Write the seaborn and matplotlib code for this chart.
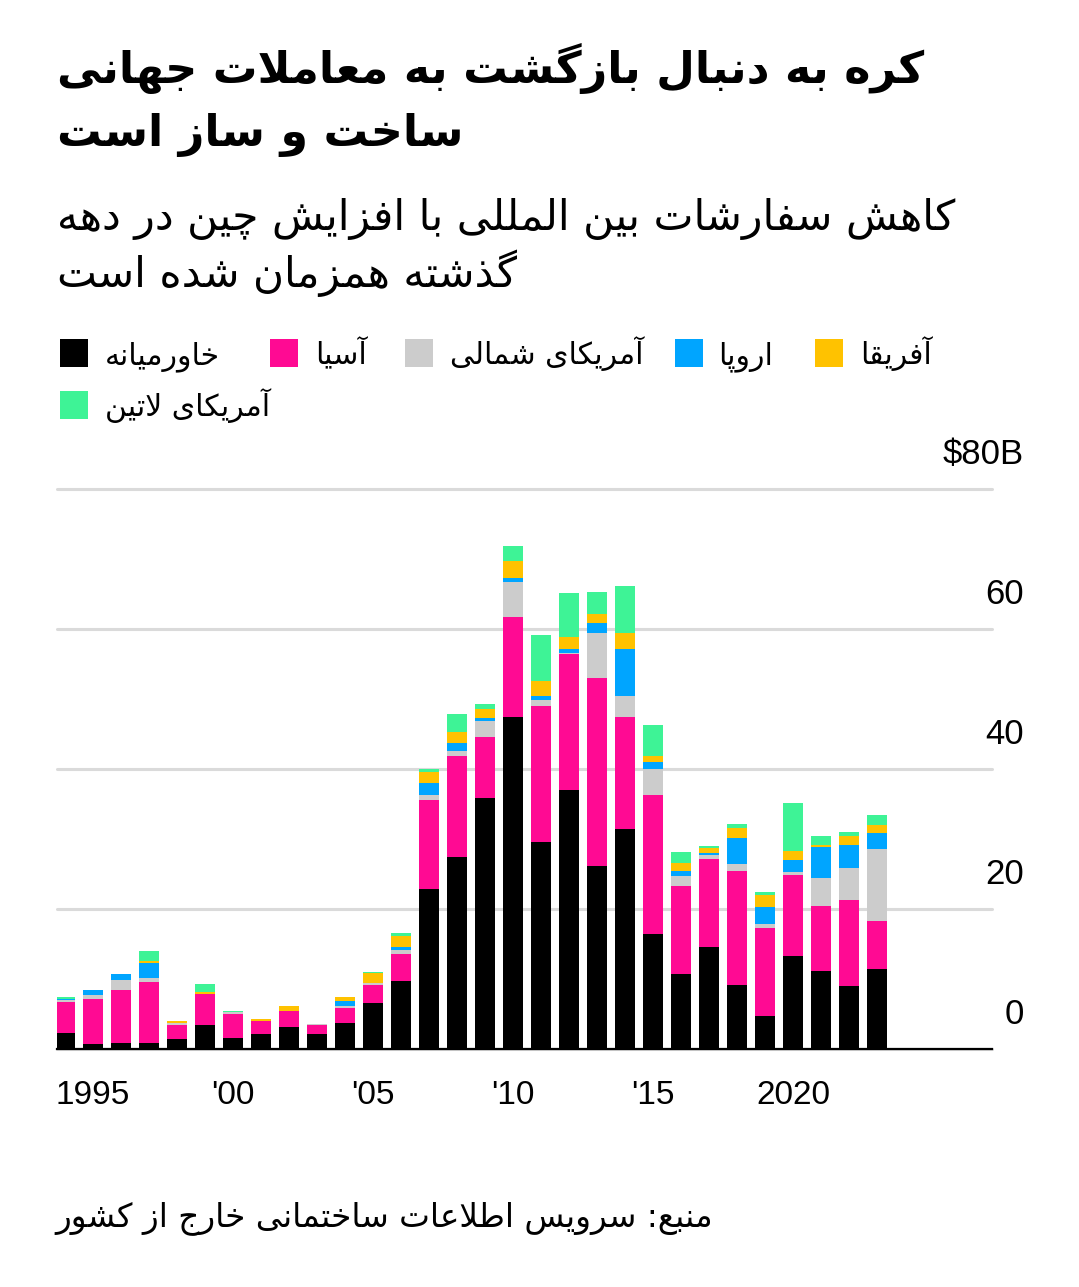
import numpy as np
import pandas as pd
import matplotlib
matplotlib.use('Agg')
import matplotlib.pyplot as plt
from matplotlib.patches import Rectangle
import seaborn as sns

# ── Data ($B of overseas construction orders won by Korea) ───────────────────
years = list(range(1994, 2024))

middle_east = [2.3, 0.7, 0.9, 0.9, 1.5, 3.4, 1.6, 2.2, 3.1, 2.2,
               3.7, 6.6, 9.7, 22.9, 27.4, 35.9, 47.4, 29.6, 37.0, 26.2,
               31.4, 16.5, 10.7, 14.6, 9.1, 4.7, 13.3, 11.1, 9.0, 11.4]
asia        = [4.4, 6.4, 7.6, 8.7, 2.0, 4.5, 3.4, 1.8, 2.3, 1.2,
               2.2, 2.6, 3.9, 12.7, 14.5, 8.7, 14.3, 19.4, 19.4, 26.8,
               16.0, 19.8, 12.6, 12.5, 16.3, 12.6, 11.5, 9.4, 12.3, 6.9]
north_am    = [0.3, 0.6, 1.4, 0.6, 0.2, 0.0, 0.3, 0.0, 0.0, 0.2,
               0.2, 0.3, 0.5, 0.7, 0.6, 2.2, 5.0, 0.9, 0.2, 6.4,
               3.0, 3.7, 1.4, 0.6, 1.0, 0.5, 0.5, 3.9, 4.5, 10.3]
europe      = [0.2, 0.7, 0.8, 2.1, 0.0, 0.0, 0.0, 0.0, 0.0, 0.0,
               0.7, 0.0, 0.5, 1.7, 1.2, 0.5, 0.6, 0.5, 0.6, 1.5,
               6.8, 1.0, 0.7, 0.3, 3.8, 2.5, 1.7, 4.5, 3.4, 2.2]
africa      = [0.0, 0.0, 0.0, 0.3, 0.3, 0.3, 0.0, 0.3, 0.8, 0.0,
               0.7, 1.4, 1.5, 1.6, 1.6, 1.3, 2.4, 2.2, 1.7, 1.2,
               2.2, 0.8, 1.2, 0.7, 1.3, 1.7, 1.3, 0.2, 1.2, 1.2]
latin_am    = [0.2, 0.0, 0.0, 1.4, 0.0, 1.1, 0.1, 0.0, 0.0, 0.0,
               0.0, 0.1, 0.5, 0.4, 2.6, 0.7, 2.2, 6.6, 6.2, 3.2,
               6.8, 4.5, 1.6, 0.3, 0.7, 0.4, 6.9, 1.4, 0.6, 1.4]

regions = ["خاورمیانه", "آسیا", "آمریکای شمالی", "اروپا", "آفریقا", "آمریکای لاتین"]
colors  = ['#000000', '#ff0a93', '#cccccc', '#00a5ff', '#ffc200', '#3ef396']

xticks       = [1995, 2000, 2005, 2010, 2015, 2020]
xtick_labels = ['1995', "'00", "'05", "'10", "'15", '2020']
yticks       = [0, 20, 40, 60, 80]
ytick_labels = ['0', '20', '40', '60', '$80B']

TITLE = ["کره به دنبال بازگشت به معاملات جهانی", "ساخت و ساز است"]
SUBTITLE = ["کاهش سفارشات بین المللی با افزایش چین در دهه", "گذشته همزمان شده است"]
SOURCE = "منبع: سرویس اطلاعات ساختمانی خارج از کشور"

# ── Minimal Persian shaping (matplotlib has no RTL/joining support) ─────────
FORMS = {
    '\u0627': (0xFE8D, 0xFE8E), '\u0622': (0xFE81, 0xFE82),
    '\u062F': (0xFEA9, 0xFEAA), '\u0630': (0xFEAB, 0xFEAC),
    '\u0631': (0xFEAD, 0xFEAE), '\u0632': (0xFEAF, 0xFEB0),
    '\u0698': (0xFB8A, 0xFB8B), '\u0648': (0xFEED, 0xFEEE),
    '\u0628': (0xFE8F, 0xFE90, 0xFE91, 0xFE92),
    '\u067E': (0xFB56, 0xFB57, 0xFB58, 0xFB59),
    '\u062A': (0xFE95, 0xFE96, 0xFE97, 0xFE98),
    '\u062B': (0xFE99, 0xFE9A, 0xFE9B, 0xFE9C),
    '\u062C': (0xFE9D, 0xFE9E, 0xFE9F, 0xFEA0),
    '\u0686': (0xFB7A, 0xFB7B, 0xFB7C, 0xFB7D),
    '\u062D': (0xFEA1, 0xFEA2, 0xFEA3, 0xFEA4),
    '\u062E': (0xFEA5, 0xFEA6, 0xFEA7, 0xFEA8),
    '\u0633': (0xFEB1, 0xFEB2, 0xFEB3, 0xFEB4),
    '\u0634': (0xFEB5, 0xFEB6, 0xFEB7, 0xFEB8),
    '\u0635': (0xFEB9, 0xFEBA, 0xFEBB, 0xFEBC),
    '\u0636': (0xFEBD, 0xFEBE, 0xFEBF, 0xFEC0),
    '\u0637': (0xFEC1, 0xFEC2, 0xFEC3, 0xFEC4),
    '\u0638': (0xFEC5, 0xFEC6, 0xFEC7, 0xFEC8),
    '\u0639': (0xFEC9, 0xFECA, 0xFECB, 0xFECC),
    '\u063A': (0xFECD, 0xFECE, 0xFECF, 0xFED0),
    '\u0641': (0xFED1, 0xFED2, 0xFED3, 0xFED4),
    '\u0642': (0xFED5, 0xFED6, 0xFED7, 0xFED8),
    '\u06A9': (0xFB8E, 0xFB8F, 0xFB90, 0xFB91),
    '\u0643': (0xFB8E, 0xFB8F, 0xFB90, 0xFB91),
    '\u06AF': (0xFB92, 0xFB93, 0xFB94, 0xFB95),
    '\u0644': (0xFEDD, 0xFEDE, 0xFEDF, 0xFEE0),
    '\u0645': (0xFEE1, 0xFEE2, 0xFEE3, 0xFEE4),
    '\u0646': (0xFEE5, 0xFEE6, 0xFEE7, 0xFEE8),
    '\u0647': (0xFEE9, 0xFEEA, 0xFEEB, 0xFEEC),
    '\u06CC': (0xFBFC, 0xFBFD, 0xFBFE, 0xFBFF),
    '\u064A': (0xFBFC, 0xFBFD, 0xFBFE, 0xFBFF),
}
LAM_ALEF = {'\u0627': (0xFEFB, 0xFEFC), '\u0622': (0xFEF5, 0xFEF6)}


def fa(text):
    tokens, i = [], 0
    while i < len(text):
        c = text[i]
        if c == '\u0644' and i + 1 < len(text) and text[i + 1] in LAM_ALEF:
            tokens.append(LAM_ALEF[text[i + 1]]); i += 2
        else:
            tokens.append(FORMS.get(c, c)); i += 1
    out = []
    for k, t in enumerate(tokens):
        if isinstance(t, str):
            out.append(t); continue
        prev = tokens[k - 1] if k > 0 else None
        nxt = tokens[k + 1] if k + 1 < len(tokens) else None
        link_prev = isinstance(prev, tuple) and len(prev) == 4
        link_next = len(t) == 4 and isinstance(nxt, tuple)
        if link_prev and link_next:
            cp = t[3]
        elif link_prev:
            cp = t[1]
        elif link_next:
            cp = t[2]
        else:
            cp = t[0]
        out.append(chr(cp))
    return ''.join(out)[::-1]


# ── Style ────────────────────────────────────────────────────────────────────
sns.set_style('white')
plt.rcParams['font.family'] = ['Liberation Sans', 'DejaVu Sans']
plt.rcParams['text.color'] = 'black'
FA_FONT = ['DejaVu Sans']

W, H = 1079, 1287
fig = plt.figure(figsize=(W / 100, H / 100), dpi=100)
fig.patch.set_facecolor('white')

def fx(px): return px / W
def fy(py): return 1 - py / H

ax = fig.add_axes([fx(57), fy(1049), (992 - 57) / W, (1049 - 489) / H])

# ── Stacked bars ─────────────────────────────────────────────────────────────
series = [middle_east, asia, north_am, europe, africa, latin_am]
df = pd.DataFrame({
    'year':   years * len(regions),
    'region': np.repeat(regions, len(years)),
    'value':  np.concatenate(series),
})
# histplot stacks the first hue level on top, so reverse the order
sns.histplot(data=df, x='year', weights='value', hue='region',
             hue_order=regions[::-1], palette=dict(zip(regions, colors)),
             multiple='stack', discrete=True, shrink=0.72,
             alpha=1, linewidth=0, edgecolor='none', legend=False, ax=ax)

ax.set_xlim(1993.71, 2027.1)
ax.set_ylim(0, 80)
ax.set_xlabel(''); ax.set_ylabel('')

ax.set_yticks(yticks)
ax.yaxis.grid(True, color='#dadada', linewidth=2.2)
for gl in ax.get_ygridlines():
    gl.set_clip_on(False)
ax.set_axisbelow(True)
ax.tick_params(axis='y', left=False, right=False, labelleft=False)

ax.set_xticks(xticks)
ax.set_xticklabels(xtick_labels)
ax.tick_params(axis='x', direction='out', length=12, width=1.6, pad=10,
               labelsize=24, colors='black')

for s in ['top', 'left', 'right']:
    ax.spines[s].set_visible(False)
ax.spines['bottom'].set_color('black')
ax.spines['bottom'].set_linewidth(1.6)
ax.spines['bottom'].set_zorder(5)

for v, lab in zip(yticks, ytick_labels):
    ax.annotate(lab, xy=(1.034, v), xycoords=('axes fraction', 'data'),
                xytext=(0, 18), textcoords='offset points',
                ha='right', va='baseline', fontsize=25, color='black',
                annotation_clip=False)

# ── Titles ───────────────────────────────────────────────────────────────────
fig.text(fx(57), fy(83), fa(TITLE[0]), family=FA_FONT, fontsize=32,
         fontweight='bold', ha='left', va='baseline')
fig.text(fx(57), fy(146), fa(TITLE[1]), family=FA_FONT, fontsize=32,
         fontweight='bold', ha='left', va='baseline')
fig.text(fx(57), fy(230), fa(SUBTITLE[0]), family=FA_FONT, fontsize=30.5,
         ha='left', va='baseline')
fig.text(fx(57), fy(287), fa(SUBTITLE[1]), family=FA_FONT, fontsize=30.5,
         ha='left', va='baseline')

# ── Legend ───────────────────────────────────────────────────────────────────
legend_pos = [(60, 105, 339), (270, 315, 339), (405, 450, 339),
              (675, 718, 339), (815, 860, 339), (60, 105, 391)]
for (sq_x, tx, top), name, col in zip(legend_pos, regions, colors):
    fig.add_artist(Rectangle((fx(sq_x), fy(top + 28)), 28 / W, 28 / H,
                             transform=fig.transFigure, color=col, lw=0))
    fig.text(fx(tx), fy(top + 25), fa(name), family=FA_FONT, fontsize=21.5,
             ha='left', va='baseline')

# ── Source ───────────────────────────────────────────────────────────────────
fig.text(fx(55), fy(1226), fa(SOURCE), family=FA_FONT, fontsize=23.5,
         ha='left', va='baseline')

fig.savefig('out.png', dpi=100, facecolor='white')
plt.close(fig)
